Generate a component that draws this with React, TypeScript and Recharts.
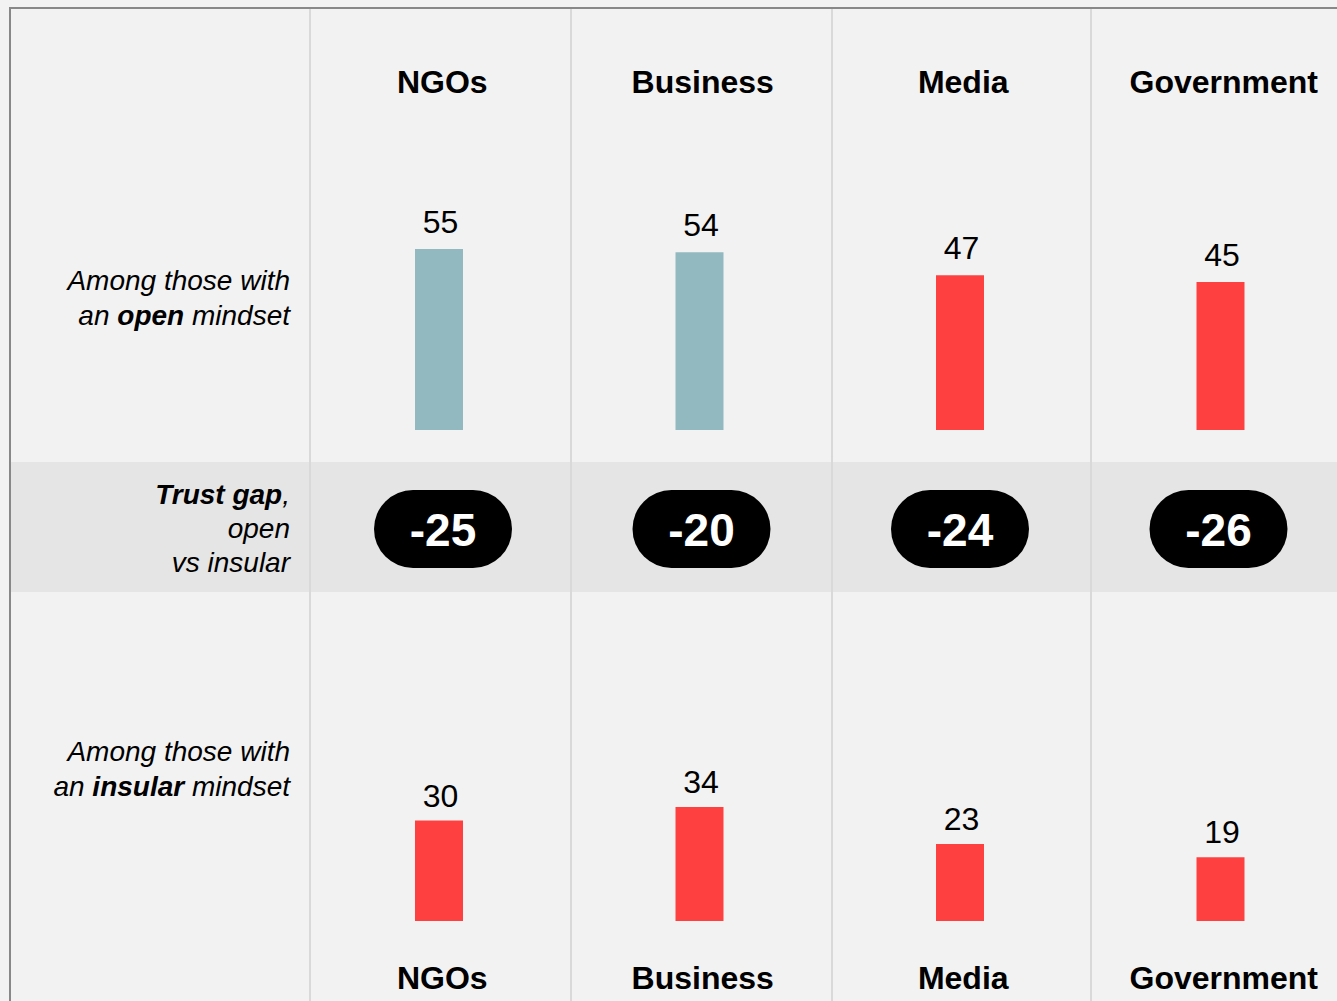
import React from 'react';
import { BarChart, Bar, XAxis, YAxis, Cell, LabelList } from 'recharts';

const categories = ['NGOs', 'Business', 'Media', 'Government'];
const openValues = [55, 54, 47, 45];
const insularValues = [30, 34, 23, 19];
const gapValues = [-25, -20, -24, -26];

const FONT = '"Liberation Sans", Arial, Helvetica, sans-serif';
const TEAL = '#92b9bf';
const RED = '#ff4040';
const trustColor = (v: number) => (v >= 50 ? TEAL : RED);

const topData = categories.map((name, i) => ({ name, value: openValues[i] }));
const bottomData = categories.map((name, i) => ({ name, value: insularValues[i] }));
const gapData = categories.map((name, i) => ({ name, gap: gapValues[i] }));

const HeaderTick = (props: any) => {
  const { x, y, payload, dy } = props;
  return (
    <text x={x + 3} y={y + dy} textAnchor="middle" fontSize={32} fontWeight="bold" fill="#000" fontFamily={FONT}>
      {payload.value}
    </text>
  );
};

const ValueLabel = (props: any) => {
  const { x, y, width, value, offset } = props;
  return (
    <text x={x + width / 2 + 1.5} y={y - offset} textAnchor="middle" fontSize={32} fill="#000" fontFamily={FONT}>
      {value}
    </text>
  );
};

const Pill = (props: any) => {
  const { x, width, payload } = props;
  const cx = x + width / 2;
  const cy = 67;
  const w = 138;
  const h = 78;
  return (
    <g>
      <rect x={cx - w / 2} y={cy - h / 2} width={w} height={h} rx={39} ry={39} fill="#000" />
      <text x={cx} y={cy + 16.5} textAnchor="middle" fontSize={46} fontWeight="bold" fill="#fff" fontFamily={FONT}>
        {payload.gap}
      </text>
    </g>
  );
};

const rowLabel: React.CSSProperties = {
  position: 'absolute',
  left: 0,
  width: 290,
  textAlign: 'right',
  fontFamily: FONT,
  fontSize: 28,
  fontStyle: 'italic',
  color: '#000',
  whiteSpace: 'nowrap',
};

const separators = [310, 571, 832, 1091];

export default function App() {
  return (
    <div
      style={{
        position: 'fixed',
        left: 0,
        top: 0,
        width: 1337,
        height: 1001,
        overflow: 'hidden',
        background: '#f2f2f2',
        fontFamily: FONT,
      }}
    >
      {/* trust gap band */}
      <div style={{ position: 'absolute', left: 10, top: 462, width: 1327, height: 130, background: '#e5e5e5' }} />
      {/* column separators */}
      {separators.map((sx) => (
        <div key={sx} style={{ position: 'absolute', left: sx - 1, top: 8, width: 2, height: 993, background: '#d9d9d9' }} />
      ))}
      {/* frame */}
      <div style={{ position: 'absolute', left: 10, top: 7, width: 1327, height: 2, background: '#888' }} />
      <div style={{ position: 'absolute', left: 9, top: 7, width: 2, height: 994, background: '#888' }} />

      {/* row labels */}
      <div style={{ ...rowLabel, top: 263, lineHeight: '35px' }}>
        Among those with
        <br />
        an <b>open</b> mindset
      </div>
      <div style={{ ...rowLabel, top: 478, lineHeight: '34px' }}>
        <b>Trust gap</b>,
        <br />
        open
        <br />
        vs insular
      </div>
      <div style={{ ...rowLabel, top: 734, lineHeight: '35px' }}>
        Among those with
        <br />
        an <b>insular</b> mindset
      </div>

      {/* top chart: open mindset */}
      <div style={{ position: 'absolute', left: 0, top: 0 }}>
        <BarChart width={1351} height={440} data={topData} margin={{ top: 0, right: 0, bottom: 10, left: 309 }}>
          <XAxis
            dataKey="name"
            orientation="top"
            height={101}
            axisLine={false}
            tickLine={false}
            tickSize={0}
            tickMargin={0}
            interval={0}
            tick={<HeaderTick dy={-8} />}
          />
          <YAxis hide domain={[0, 100]} />
          <Bar dataKey="value" barSize={48} isAnimationActive={false}>
            {topData.map((d) => (
              <Cell key={d.name} fill={trustColor(d.value)} />
            ))}
            <LabelList dataKey="value" position="top" offset={16} content={<ValueLabel />} />
          </Bar>
        </BarChart>
      </div>

      {/* middle chart: trust gap */}
      <div style={{ position: 'absolute', left: 0, top: 462 }}>
        <BarChart width={1348} height={130} data={gapData} margin={{ top: 0, right: 0, bottom: 0, left: 314 }}>
          <XAxis dataKey="name" hide />
          <YAxis hide domain={[-30, 0]} />
          <Bar dataKey="gap" barSize={48} isAnimationActive={false} shape={(p: any) => <Pill {...p} />} />
        </BarChart>
      </div>

      {/* bottom chart: insular mindset */}
      <div style={{ position: 'absolute', left: 0, top: 500 }}>
        <BarChart width={1351} height={501} data={bottomData} margin={{ top: 86, right: 0, bottom: 0, left: 309 }}>
          <XAxis
            dataKey="name"
            orientation="bottom"
            height={80}
            axisLine={false}
            tickLine={false}
            tickSize={0}
            tickMargin={0}
            interval={0}
            tick={<HeaderTick dy={68} />}
          />
          <YAxis hide domain={[0, 100]} />
          <Bar dataKey="value" barSize={48} isAnimationActive={false}>
            {bottomData.map((d) => (
              <Cell key={d.name} fill={trustColor(d.value)} />
            ))}
            <LabelList dataKey="value" position="top" offset={14} content={<ValueLabel />} />
          </Bar>
        </BarChart>
      </div>
    </div>
  );
}
